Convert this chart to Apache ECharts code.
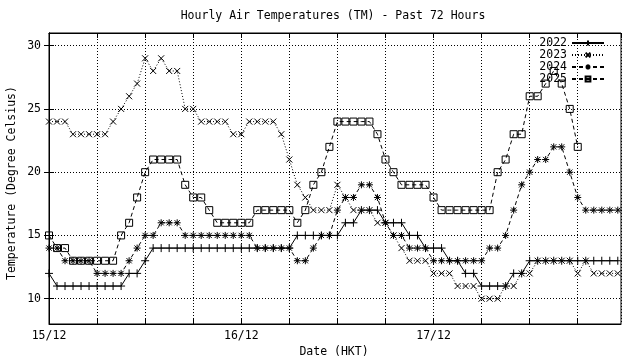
<!DOCTYPE html>
<html><head><meta charset="utf-8">
<script src="https://cdn.jsdelivr.net/npm/echarts@6/dist/echarts.min.js"></script>
<style>html,body{margin:0;padding:0;background:#fff}#c{width:640px;height:360px}</style>
</head><body><div id="c"></div>
<script>
// Hours since 00:00 on 15/12 (hourly readings)
const hours = [0,1,2,3,4,5,6,7,8,9,10,11,12,13,14,15,16,17,18,19,20,21,22,23,
  24,25,26,27,28,29,30,31,32,33,34,35,36,37,38,39,40,41,42,43,44,45,46,47,
  48,49,50,51,52,53,54,55,56,57,58,59,60,61,62,63,64,65,66,67,68,69,70,71];
const seriesNames = ['2022','2023','2024','2025'];
const t2022 = [12,11,11,11,11,11,11,11,11,11,12,12,13,14,14,14,14,14,14,14,14,14,14,14,
  14,14,14,14,14,14,14,15,15,15,15,15,15,16,16,17,17,17,16,16,16,15,15,14,
  14,14,13,13,12,12,11,11,11,11,12,12,13,13,13,13,13,13,13,13,13,13,13,13];
const t2023 = [24,24,24,23,23,23,23,23,24,25,26,27,29,28,29,28,28,25,25,24,24,24,24,23,
  23,24,24,24,24,23,21,19,18,17,17,17,19,18,17,17,17,16,16,15,14,13,13,13,
  12,12,12,11,11,11,10,10,10,11,11,12,12,13,13,13,13,13,12,13,12,12,12,12];
const t2024 = [14,14,13,13,13,13,12,12,12,12,13,14,15,15,16,16,16,15,15,15,15,15,15,15,
  15,15,14,14,14,14,14,13,13,14,15,15,17,18,18,19,19,18,16,15,15,14,14,14,
  13,13,13,13,13,13,13,14,14,15,17,19,20,21,21,22,22,20,18,17,17,17,17,17];
const t2025 = [15,14,14,13,13,13,13,13,13,15,16,18,20,21,21,21,21,19,18,18,17,16,16,16,
  16,16,17,17,17,17,17,16,17,19,20,22,24,24,24,24,24,23,21,20,19,19,19,19,
  18,17,17,17,17,17,17,17,20,21,23,23,26,26,27,28,27,25,22];
const yTicks = [10,15,20,25,30];
const xLabelHours = [0,24,48];
const xLabels = ['15/12','16/12','17/12'];
const titleText = 'Hourly Air Temperatures (TM) - Past 72 Hours';
const xName = 'Date (HKT)';
const yName = 'Temperature (Degree Celsius)';

const FONT = 'DejaVu Sans Mono';
const pair = arr => arr.map((v,i)=>[hours[i], v]);
const sym = {
  plus: 'path://M0,4L8,4M4,0L4,8',
  cross: 'path://M0,0L8,8M8,0L0,8',
  star: 'path://M0,4L8,4M4,0L4,8M1,1L7,7M7,1L1,7',
  square: 'path://M0,0L8,0L8,8L0,8Z'
};
const styles = [
  {symbol: sym.plus, size: 8, type: 'solid'},
  {symbol: sym.cross, size: 6, type: [1,2]},
  {symbol: sym.star, size: 7, type: [4,3]},
  {symbol: sym.square, size: 7, type: [4,3]}
];
const dataSets = [t2022, t2023, t2024, t2025];
const dotted = {color:'#000', width:1, type:[1,2]};

const series = seriesNames.map((n,i)=>({
  name: n, type: 'line', data: pair(dataSets[i]),
  symbol: styles[i].symbol, symbolSize: styles[i].size,
  showSymbol: true,
  lineStyle: {color:'#000', width:1, type: styles[i].type},
  itemStyle: {color:'rgba(0,0,0,0)', borderColor:'#000', borderWidth:1},
  emphasis: {disabled: true},
  xAxisIndex: 0, yAxisIndex: 0,
  z: 3
}));
series[0].markLine = {
  silent: true, symbol: ['none','none'], label: {show:false},
  lineStyle: dotted, animation: false,
  data: yTicks.map(v=>({yAxis: v}))
};

const axisTxt = {color:'#000', fontFamily: FONT, fontSize: 11.5};
const chart = echarts.init(document.getElementById('c'), null, {renderer:'canvas'});
chart.setOption({
  animation: false,
  backgroundColor: '#fff',
  grid: {left: 49, right: 19, top: 33, bottom: 36, show: true, borderColor:'#000', borderWidth:1},
  graphic: [
    {type:'text', x: 333, y: 16, style:{text: titleText, font: '11.5px "'+FONT+'"', fill:'#000', textAlign:'center', textVerticalAlign:'middle'}},
    {type:'text', x: 334, y: 352, style:{text: xName, font: '11.5px "'+FONT+'"', fill:'#000', textAlign:'center', textVerticalAlign:'middle'}},
    {type:'text', x: 12, y: 183, rotation: Math.PI/2, style:{text: yName, font: '11.5px "'+FONT+'"', fill:'#000', textAlign:'center', textVerticalAlign:'middle'}}
  ],
  legend: {
    data: seriesNames, orient: 'vertical', right: 35, top: 37, align: 'right',
    itemWidth: 32, itemHeight: 6, itemGap: 0, padding: 0,
    textStyle: {color:'#000', fontFamily: FONT, fontSize: 11.5, lineHeight: 10, height: 10},
    selectedMode: false
  },
  xAxis: [{
    type: 'value', min: 0, max: 71.4, interval: 6, position: 'bottom',
    axisLine: {show: true, lineStyle:{color:'#000'}},
    axisTick: {show: true, inside: true, length: 5, lineStyle:{color:'#000'}},
    splitLine: {show: true, lineStyle: dotted},
    axisLabel: {show: true, ...axisTxt, margin: 6, showMinLabel: true, showMaxLabel: false,
      formatter: v => { const k = xLabelHours.indexOf(v); return k >= 0 ? xLabels[k] : ''; }}
  },{
    type: 'value', min: 0, max: 71.4, interval: 6, position: 'top',
    axisLine: {show: true, lineStyle:{color:'#000'}},
    axisTick: {show: true, inside: true, length: 5, lineStyle:{color:'#000'}},
    splitLine: {show: false}, axisLabel: {show: false}
  }],
  yAxis: [{
    type: 'value', min: 8, max: 31, position: 'left',
    axisLine: {show: true, lineStyle:{color:'#000'}},
    axisTick: {show: true, inside: true, length: 5, lineStyle:{color:'#000'}, customValues: yTicks},
    splitLine: {show: false},
    axisLabel: {show: true, ...axisTxt, margin: 8, customValues: yTicks}
  },{
    type: 'value', min: 8, max: 31, position: 'right',
    axisLine: {show: true, lineStyle:{color:'#000'}},
    axisTick: {show: true, inside: true, length: 5, lineStyle:{color:'#000'}, customValues: yTicks},
    splitLine: {show: false}, axisLabel: {show: false, customValues: yTicks}
  }],
  series: series
});
</script>
</body></html>
